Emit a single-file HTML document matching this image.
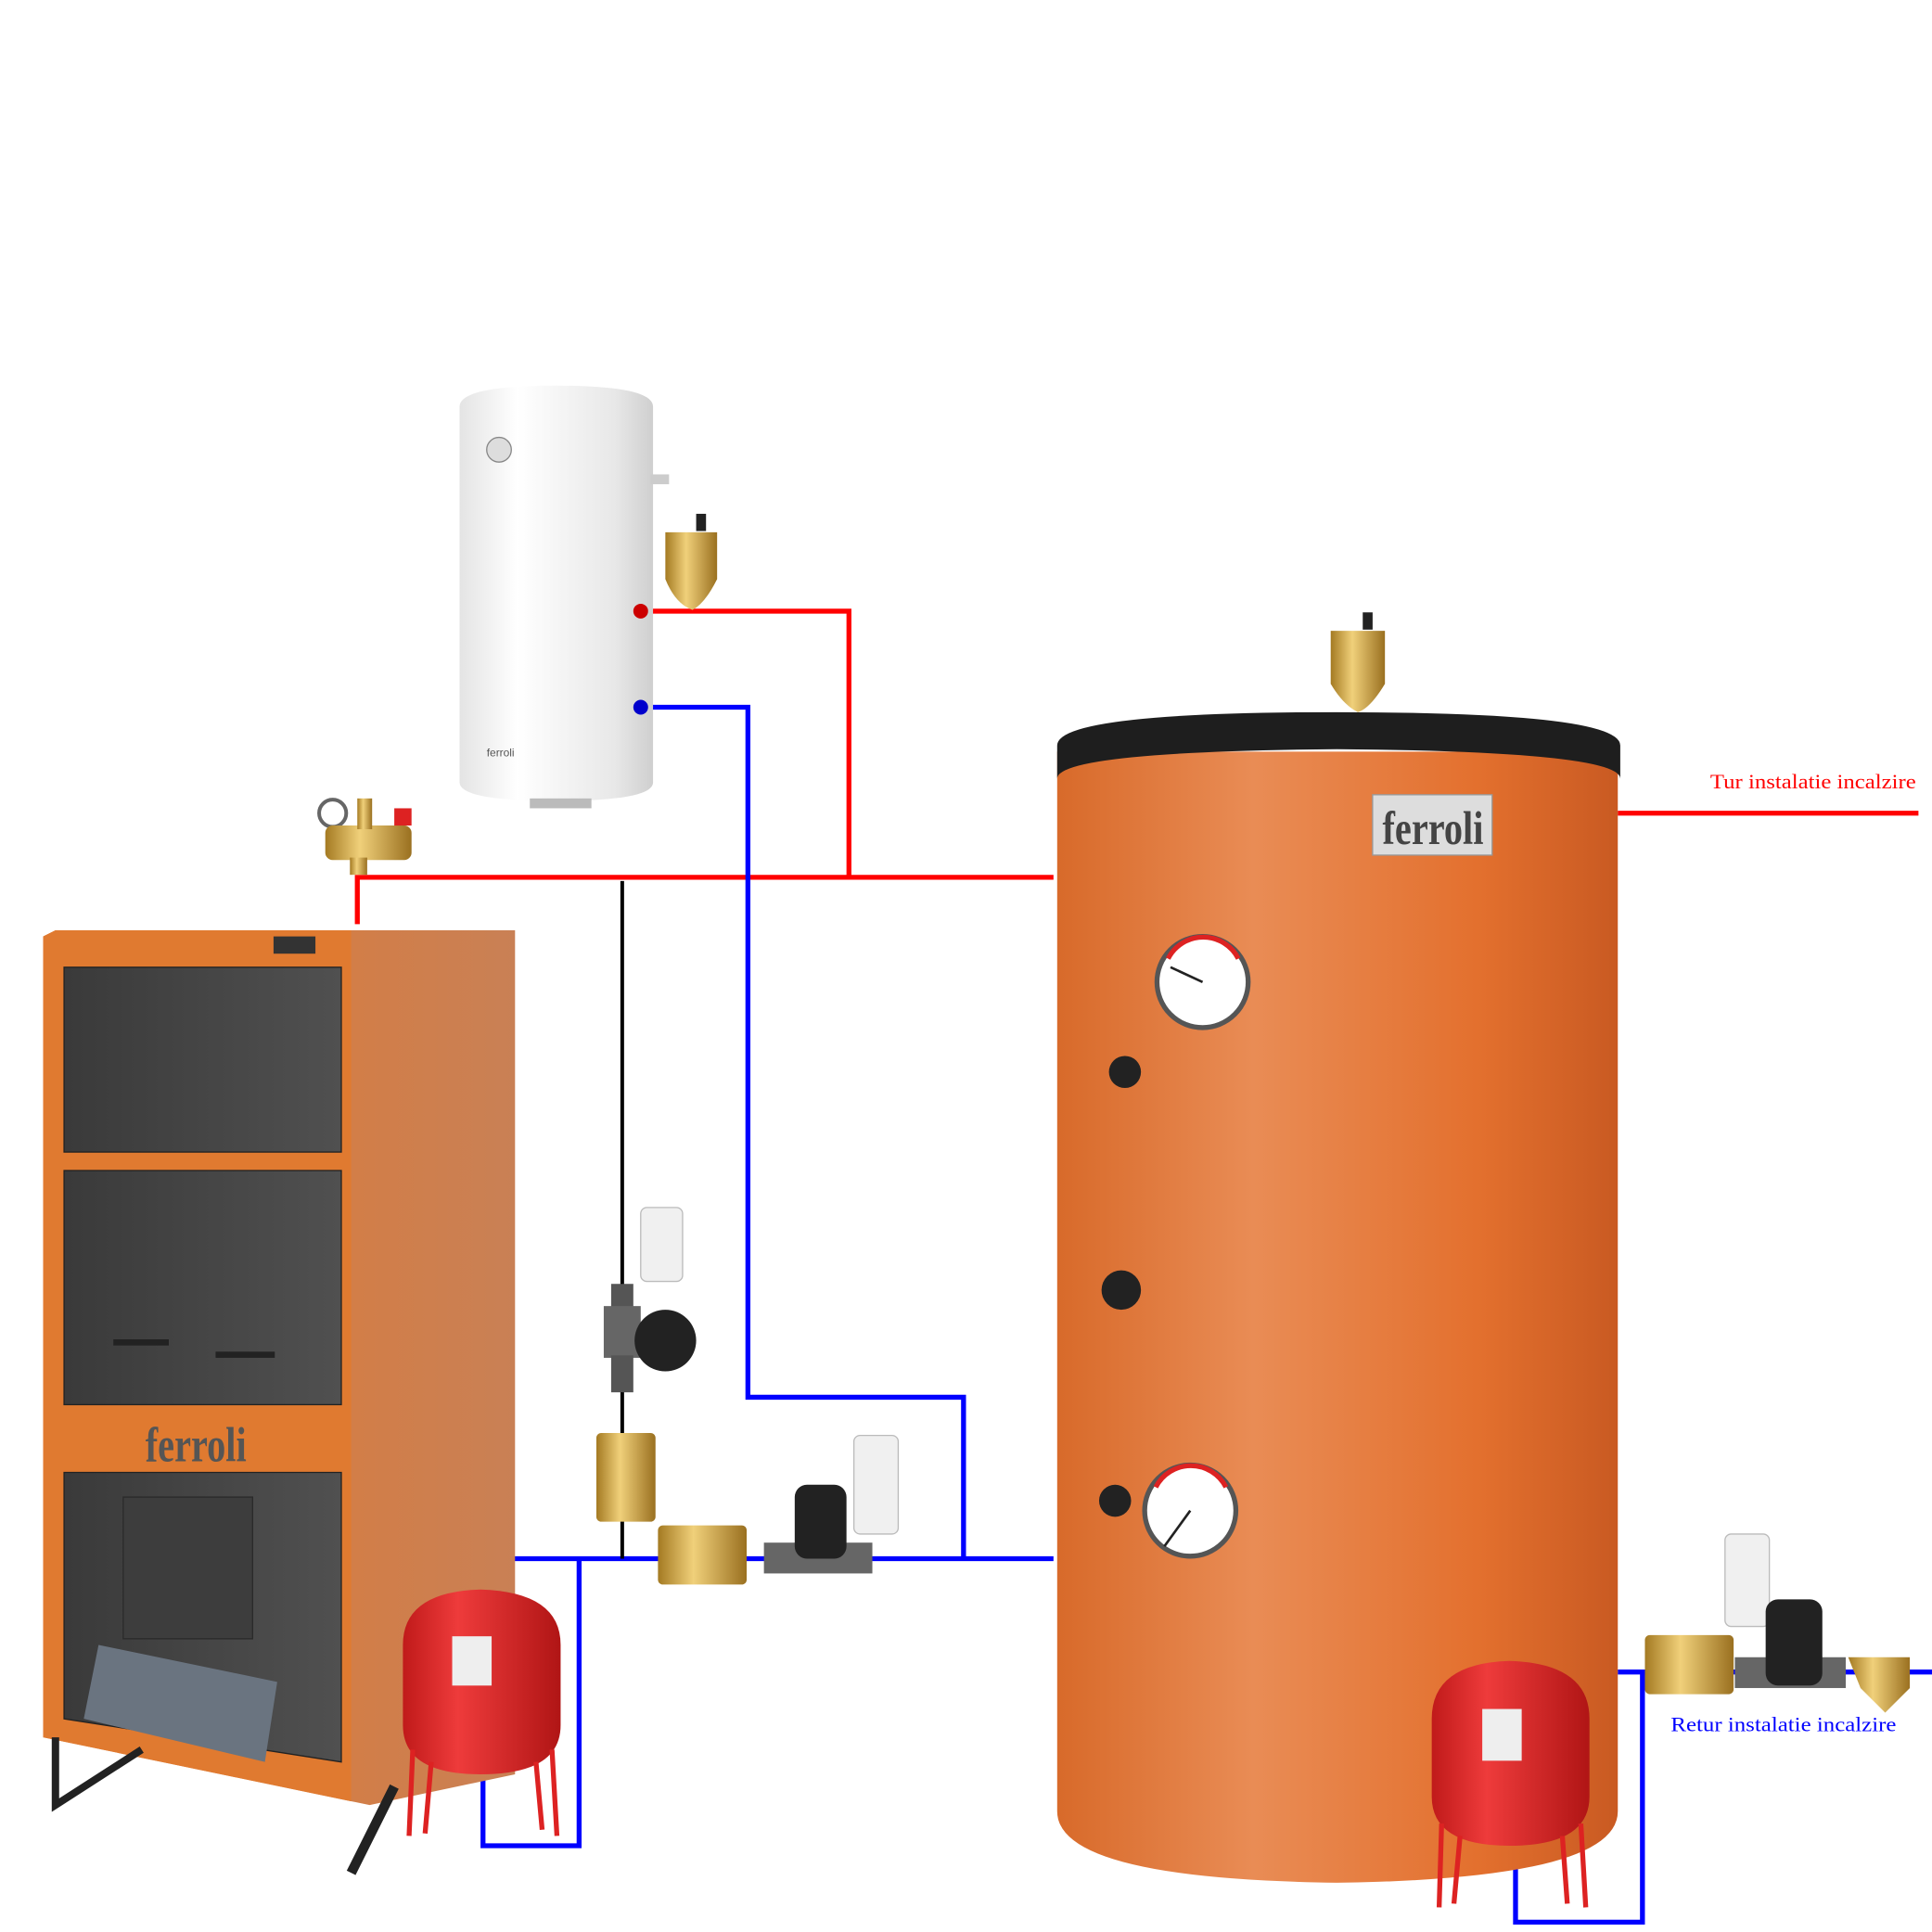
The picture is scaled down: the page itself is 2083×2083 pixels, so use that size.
<!DOCTYPE html>
<html><head><meta charset="utf-8"><style>html,body{margin:0;padding:0;background:#fff}svg{display:block}</style></head><body>
<svg width="2083" height="2083" viewBox="0 0 1568 1568" xmlns="http://www.w3.org/2000/svg">
<defs>
<linearGradient id="tank" x1="0" x2="1"><stop offset="0" stop-color="#d86a2a"/><stop offset=".35" stop-color="#e98c55"/><stop offset=".75" stop-color="#e3702e"/><stop offset="1" stop-color="#c95a22"/></linearGradient>
<linearGradient id="heater" x1="0" x2="1"><stop offset="0" stop-color="#e4e4e4"/><stop offset=".3" stop-color="#ffffff"/><stop offset=".8" stop-color="#e8e8e8"/><stop offset="1" stop-color="#cfcfcf"/></linearGradient>
<linearGradient id="boil" x1="0" x2="1"><stop offset="0" stop-color="#e37a2e"/><stop offset="1" stop-color="#c98055"/></linearGradient>
<linearGradient id="red" x1="0" x2="1"><stop offset="0" stop-color="#c01a1a"/><stop offset=".35" stop-color="#ee3b3b"/><stop offset="1" stop-color="#b01515"/></linearGradient>
<linearGradient id="brass" x1="0" x2="1"><stop offset="0" stop-color="#a47a22"/><stop offset=".4" stop-color="#f0d07a"/><stop offset="1" stop-color="#9a7020"/></linearGradient>
<linearGradient id="door" x1="0" x2="1"><stop offset="0" stop-color="#3a3a3a"/><stop offset="1" stop-color="#505050"/></linearGradient>
</defs>

<g fill="none" stroke-width="4">
<path d="M290 750 V712 H855" stroke="#ff0000"/>
<path d="M520 496 H689 V712" stroke="#ff0000"/>
<path d="M1313 660 H1557" stroke="#ff0000"/>
<path d="M520 574 H607 V1134 H782 V1265" stroke="#0000ff"/>
<path d="M415 1265 H855" stroke="#0000ff"/>
<path d="M470 1265 V1498 H392 V1440" stroke="#0000ff"/>
<path d="M1313 1357 H1333 V1560 H1230 V1500" stroke="#0000ff"/>
<path d="M1333 1357 H1568" stroke="#0000ff"/>
<path d="M505 715 V1265" stroke="#000" stroke-width="3"/>
</g>

<path d="M373 330 Q373 313 452 313 Q530 313 530 330 V635 Q530 650 452 650 Q373 650 373 635 Z" fill="url(#heater)"/>
<rect x="528" y="385" width="15" height="8" fill="#ccc"/>
<circle cx="405" cy="365" r="10" fill="#ddd" stroke="#888"/>
<text x="395" y="614" font-family="Liberation Sans,sans-serif" font-size="9" fill="#555">ferroli</text>
<circle cx="520" cy="496" r="6" fill="#c00"/><circle cx="520" cy="574" r="6" fill="#00c"/>
<rect x="430" y="648" width="50" height="8" fill="#bbb"/>

<g><rect x="565" y="417" width="8" height="14" fill="#222"/><path d="M540 432 H582 V470 Q572 490 562 495 Q548 490 540 470Z" fill="url(#brass)"/></g>
<g><rect x="1106" y="497" width="8" height="14" fill="#222"/><path d="M1080 512 H1124 V555 Q1112 575 1102 578 Q1090 572 1080 555Z" fill="url(#brass)"/></g>

<g><circle cx="270" cy="660" r="11" fill="#fff" stroke="#666" stroke-width="3"/><rect x="264" y="670" width="70" height="28" rx="6" fill="url(#brass)"/><rect x="290" y="648" width="12" height="25" fill="url(#brass)"/><rect x="320" y="656" width="14" height="14" fill="#d22"/><rect x="284" y="696" width="14" height="14" fill="url(#brass)"/></g>

<path d="M35 760 L45 755 H418 V1440 L300 1465 L35 1410 Z" fill="url(#boil)"/>
<path d="M35 760 L45 755 H285 V1462 L35 1410 Z" fill="#e07a30"/>
<rect x="222" y="760" width="34" height="14" fill="#333"/>
<rect x="52" y="785" width="225" height="150" fill="url(#door)" stroke="#222"/>
<rect x="52" y="950" width="225" height="190" fill="url(#door)" stroke="#222"/>
<rect x="92" y="1087" width="45" height="5" fill="#222"/><rect x="175" y="1097" width="48" height="5" fill="#222"/>
<text x="118" y="1186" font-family="Liberation Serif,serif" font-size="40" fill="#555" font-weight="bold" textLength="82" lengthAdjust="spacingAndGlyphs">ferroli</text>
<path d="M52 1195 H277 V1430 L52 1395 Z" fill="url(#door)" stroke="#222"/>
<rect x="100" y="1215" width="105" height="115" fill="#3d3d3d" stroke="#2a2a2a"/>
<path d="M80 1335 L225 1365 L215 1430 L68 1395 Z" fill="#6a7480"/>
<path d="M45 1410 V1465 L115 1420" stroke="#222" stroke-width="6" fill="none"/>
<path d="M285 1520 L320 1450" stroke="#222" stroke-width="8"/>

<path d="M858 610 V1470 Q858 1525 1085 1528 Q1313 1525 1313 1470 V610 Z" fill="url(#tank)"/>
<path d="M858 632 V605 Q858 578 1085 578 Q1315 578 1315 605 V632 Q1315 610 1085 608 Q858 610 858 632Z" fill="#1e1e1e"/>
<rect x="1114" y="645" width="97" height="49" fill="#ddd" stroke="#999"/>
<text x="1122" y="685" font-family="Liberation Serif,serif" font-size="38" font-weight="bold" fill="#444" textLength="82" lengthAdjust="spacingAndGlyphs">ferroli</text>
<g><circle cx="976" cy="797" r="37" fill="#fff" stroke="#555" stroke-width="4"/><path d="M948 778 A32 32 0 0 1 1005 778" stroke="#d22" stroke-width="4" fill="none"/><line x1="976" y1="797" x2="950" y2="785" stroke="#222" stroke-width="2"/></g>
<g><circle cx="966" cy="1226" r="37" fill="#fff" stroke="#555" stroke-width="4"/><path d="M938 1207 A32 32 0 0 1 995 1207" stroke="#d22" stroke-width="4" fill="none"/><line x1="966" y1="1226" x2="945" y2="1255" stroke="#222" stroke-width="2"/></g>
<circle cx="913" cy="870" r="13" fill="#222"/><circle cx="910" cy="1047" r="16" fill="#222"/><circle cx="905" cy="1218" r="13" fill="#222"/>

<rect x="520" y="980" width="34" height="60" rx="5" fill="#f0f0f0" stroke="#bbb"/>
<rect x="496" y="1042" width="18" height="20" fill="#555"/>
<rect x="490" y="1060" width="30" height="42" fill="#666"/><circle cx="540" cy="1088" r="25" fill="#222"/>
<rect x="496" y="1100" width="18" height="30" fill="#555"/>
<rect x="484" y="1163" width="48" height="72" rx="4" fill="url(#brass)"/>
<rect x="534" y="1238" width="72" height="48" rx="4" fill="url(#brass)"/>
<rect x="620" y="1252" width="88" height="25" fill="#666"/><rect x="645" y="1205" width="42" height="60" rx="10" fill="#222"/>
<rect x="693" y="1165" width="36" height="80" rx="5" fill="#f0f0f0" stroke="#bbb"/>

<rect x="1400" y="1245" width="36" height="75" rx="5" fill="#f0f0f0" stroke="#bbb"/>
<rect x="1335" y="1327" width="72" height="48" rx="4" fill="url(#brass)"/>
<rect x="1408" y="1345" width="90" height="25" fill="#666"/><rect x="1433" y="1298" width="46" height="70" rx="10" fill="#222"/>
<path d="M1500 1345 H1550 V1370 L1530 1390 L1510 1370 Z" fill="url(#brass)"/>

<g><path d="M327 1335 Q327 1292 390 1290 Q455 1292 455 1335 V1400 Q455 1440 390 1440 Q327 1440 327 1400 Z" fill="url(#red)"/><rect x="367" y="1328" width="32" height="40" fill="#eee"/><path d="M335 1420 L332 1490 M448 1420 L452 1490 M350 1430 L345 1488 M435 1430 L440 1485" stroke="#d22" stroke-width="4"/></g>
<g><path d="M1162 1395 Q1162 1350 1225 1348 Q1290 1350 1290 1395 V1458 Q1290 1498 1225 1498 Q1162 1498 1162 1458 Z" fill="url(#red)"/><rect x="1203" y="1387" width="32" height="42" fill="#eee"/><path d="M1170 1480 L1168 1548 M1283 1480 L1287 1548 M1185 1490 L1180 1545 M1268 1490 L1272 1545" stroke="#d22" stroke-width="4"/></g>

<text x="1388" y="640" font-family="Liberation Serif,serif" font-size="17" fill="#ff0000" textLength="167" lengthAdjust="spacingAndGlyphs">Tur instalatie incalzire</text>
<text x="1356" y="1405" font-family="Liberation Serif,serif" font-size="17" fill="#0000ff" textLength="183" lengthAdjust="spacingAndGlyphs">Retur instalatie incalzire</text>
</svg>
</body></html>
